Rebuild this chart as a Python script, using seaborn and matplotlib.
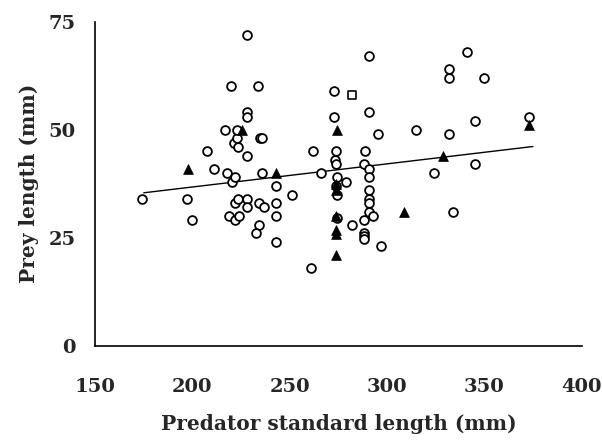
import numpy as np
import pandas as pd
import matplotlib
matplotlib.use("Agg")
import matplotlib.pyplot as plt
import seaborn as sns

# open circles
circle_x = [174, 197, 200, 207.5, 211, 217, 218, 220, 220.5, 222, 221.5, 223.6, 223, 223,
            218.7, 221.7, 222, 223.6, 224, 228, 228, 228, 228, 228, 228, 233.7, 235, 235.6,
            236, 234, 234, 232.7, 237, 243, 243, 243, 243, 251, 261, 262, 266, 273, 273,
            274, 273.4, 273.8, 274.4, 273.8, 274.4, 274.2, 279, 282, 288.6, 288, 288, 288,
            288, 288, 291, 291, 291, 291, 291, 291, 291, 291, 293, 295.5, 297, 315, 324,
            332, 332, 332, 334, 341, 345, 345, 350, 373]
circle_y = [34, 34, 29, 45, 41, 50, 40, 60, 38, 39, 47, 46, 48, 50,
            30, 29, 33, 34, 30, 72, 54, 53, 44, 34, 32, 60, 48, 48,
            40, 33, 28, 26, 32, 37, 33, 30, 24, 35, 18, 45, 40, 59, 53,
            45, 43, 42, 39, 37, 35, 29.5, 38, 28, 45, 42, 29, 26.2,
            25.5, 24.8, 67, 54, 41, 39, 36, 34, 33, 31, 30, 49, 23, 50, 40,
            64, 62, 49, 31, 68, 52, 42, 62, 53]

# filled triangles
tri_x = [197.5, 225.6, 243, 274.4, 274, 274, 274, 274, 274, 274, 309, 329, 373]
tri_y = [41, 50, 40, 50, 37.5, 36, 30, 26.8, 25.8, 21, 31, 44, 51]

# open square
sq_x = [282]
sq_y = [58]

# regression line
fit_x = [175, 375]
fit_y = [35.4, 46.1]

circles = pd.DataFrame({"x": circle_x, "y": circle_y})
tris = pd.DataFrame({"x": tri_x, "y": tri_y})
squares = pd.DataFrame({"x": sq_x, "y": sq_y})
fit = pd.DataFrame({"x": fit_x, "y": fit_y})

sns.set_style("white")
plt.rcParams["font.family"] = ["DejaVu Serif"]

fig = plt.figure(figsize=(6.02, 4.40), dpi=100)
ax = fig.add_axes([0.158, 0.214, 0.808, 0.737])

sns.lineplot(data=fit, x="x", y="y", color="black", linewidth=1.0, ax=ax)
sns.scatterplot(data=circles, x="x", y="y", marker="o", s=40, facecolor="white",
                edgecolor="black", linewidth=1.3, ax=ax, zorder=3)
sns.scatterplot(data=tris, x="x", y="y", marker="^", s=50, color="black",
                edgecolor="black", linewidth=0.5, ax=ax, zorder=4)
sns.scatterplot(data=squares, x="x", y="y", marker="s", s=32, facecolor="white",
                edgecolor="black", linewidth=1.2, ax=ax, zorder=3)

ax.set_xlim(150, 400)
ax.set_ylim(0, 75)
ax.set_xticks(np.arange(150, 401, 25))
ax.set_xticklabels([str(v) if v % 50 == 0 else "" for v in range(150, 401, 25)])
ax.set_yticks(np.arange(0, 75.1, 12.5))
ax.set_yticklabels(["0", "", "25", "", "50", "", "75"])
ax.tick_params(axis="x", direction="in", length=6, width=1.2, pad=23, labelsize=14)
ax.tick_params(axis="y", direction="in", length=6, width=1.2, pad=14, labelsize=14)
for lab in ax.get_xticklabels() + ax.get_yticklabels():
    lab.set_fontweight("bold")

sns.despine(ax=ax)
ax.spines["left"].set_linewidth(1.2)
ax.spines["bottom"].set_linewidth(1.2)
ax.spines["left"].set_color("black")
ax.spines["bottom"].set_color("black")

ax.set_xlabel("Predator standard length (mm)", fontsize=14.5, fontweight="bold", labelpad=13)
ax.set_ylabel("Prey length (mm)", fontsize=14.5, fontweight="bold", labelpad=7)

fig.savefig("out.png", dpi=100)
